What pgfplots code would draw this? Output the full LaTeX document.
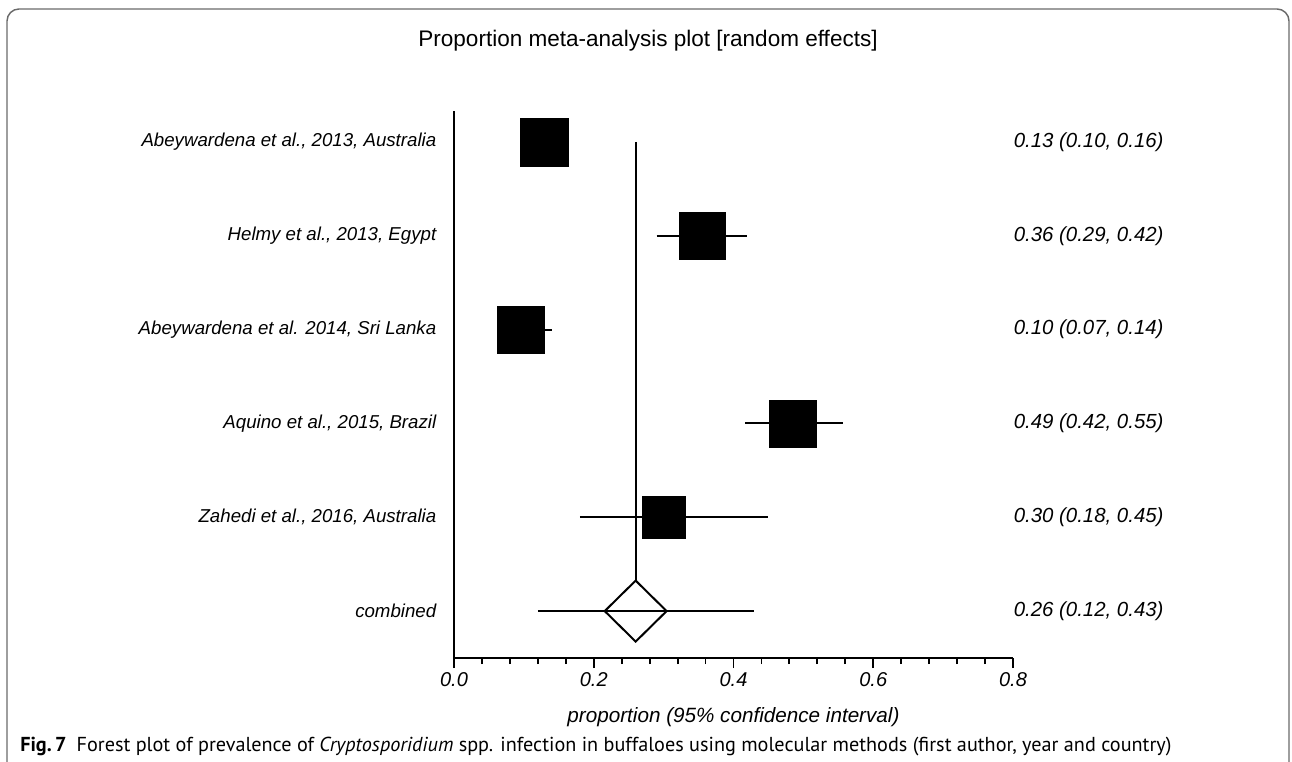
\documentclass[border=0pt]{standalone}
\usepackage{pgfplots}
\pgfplotsset{compat=1.18}
\usepackage{fontspec}
\setmainfont{Liberation Sans}
\newfontfamily\capfont{PT Sans}
\definecolor{framegray}{HTML}{6A6A6A}
\begin{document}
\begin{tikzpicture}[x=0.75pt,y=0.75pt]
\path[use as bounding box] (0,0) rectangle (1292,761);
% frame
\draw[framegray, line width=1.1pt, rounded corners=9pt] (7,-2) -- (7,752) -- (1289,752) -- (1289,-2);
% title
\node[font=\fontsize{16.9}{20}\selectfont] at (648,720) {Proportion meta-analysis plot [random effects]};
% caption
\node[anchor=base west, inner sep=0pt, font=\capfont\fontsize{15.15}{18}\selectfont] at (20,10)
 {\textbf{Fig.\,7}\enskip Forest plot of prevalence of \textit{Cryptosporidium} spp. infection in buffaloes using molecular methods (first author, year and country)};
\begin{axis}[
  at={(340.5pt,77.25pt)}, anchor=south west,
  scale only axis, width=419.25pt, height=410.25pt,
  xmin=0, xmax=0.8, ymin=0.5, ymax=6.33,
  axis x line=bottom, axis y line=left,
  axis line style={-, line width=1.5pt, black},
  xtick={0,0.2,0.4,0.6,0.8},
  minor x tick num=4,
  tick align=outside,
  major tick length=7.5pt, minor tick length=4.5pt,
  every tick/.style={line width=1.4pt, black},
  /pgf/number format/assume math mode=true,
  xticklabel style={font=\fontsize{15}{18}\selectfont\itshape, yshift=0pt, /pgf/number format/fixed, /pgf/number format/fixed zerofill, /pgf/number format/precision=1},
  ytick={1,2,3,4,5,6},
  yticklabels={{combined},{Zahedi et al., 2016, Australia},{Aquino et al., 2015, Brazil},{Abeywardena et al. 2014, Sri Lanka},{Helmy et al., 2013, Egypt},{Abeywardena et al., 2013, Australia}},
  ytick style={draw=none},
  yticklabel style={font=\fontsize{14}{18}\selectfont\itshape, xshift=-2.3pt},
  xlabel={proportion (95\% confidence interval)},
  xlabel style={font=\fontsize{15.5}{18}\selectfont\itshape, at={(axis description cs:0.5,0)}, anchor=center, yshift=-44.25pt},
  clip=false,
]
% reference line at pooled estimate
\addplot[black, line width=1.5pt] coordinates {(0.26,6) (0.26,1.325)};
% confidence intervals
\addplot[black, line width=1.5pt] coordinates {(0.10,6) (0.16,6)};
\addplot[black, line width=1.5pt] coordinates {(0.29,5) (0.42,5)};
\addplot[black, line width=1.5pt] coordinates {(0.07,4) (0.14,4)};
\addplot[black, line width=1.5pt] coordinates {(0.417,3) (0.556,3)};
\addplot[black, line width=1.5pt] coordinates {(0.18,2) (0.45,2)};
\addplot[black, line width=1.5pt] coordinates {(0.12,1) (0.43,1)};
% point estimates
\addplot[only marks, mark=square*, mark size=18pt, mark options={fill=black, draw=black}] coordinates {(0.129,6)};
\addplot[only marks, mark=square*, mark size=17.3pt, mark options={fill=black, draw=black}] coordinates {(0.355,5)};
\addplot[only marks, mark=square*, mark size=17.6pt, mark options={fill=black, draw=black}] coordinates {(0.095,4)};
\addplot[only marks, mark=square*, mark size=17.6pt, mark options={fill=black, draw=black}] coordinates {(0.485,3)};
\addplot[only marks, mark=square*, mark size=16pt, mark options={fill=black, draw=black}] coordinates {(0.30,2)};
% pooled diamond
\addplot[black, line width=1.5pt, fill=white] coordinates {(0.2157,1) (0.26,1.325) (0.3043,1) (0.26,0.675) (0.2157,1)};
\addplot[black, line width=1.5pt] coordinates {(0.2157,1) (0.3043,1)};
% estimates text
\node[anchor=east, font=\fontsize{15.3}{18}\selectfont\itshape, inner sep=0pt] at (axis cs:1.0158,6) {0.13 (0.10, 0.16)};
\node[anchor=east, font=\fontsize{15.3}{18}\selectfont\itshape, inner sep=0pt] at (axis cs:1.0158,5) {0.36 (0.29, 0.42)};
\node[anchor=east, font=\fontsize{15.3}{18}\selectfont\itshape, inner sep=0pt] at (axis cs:1.0158,4) {0.10 (0.07, 0.14)};
\node[anchor=east, font=\fontsize{15.3}{18}\selectfont\itshape, inner sep=0pt] at (axis cs:1.0158,3) {0.49 (0.42, 0.55)};
\node[anchor=east, font=\fontsize{15.3}{18}\selectfont\itshape, inner sep=0pt] at (axis cs:1.0158,2) {0.30 (0.18, 0.45)};
\node[anchor=east, font=\fontsize{15.3}{18}\selectfont\itshape, inner sep=0pt] at (axis cs:1.0158,1) {0.26 (0.12, 0.43)};
\end{axis}
\end{tikzpicture}
\end{document}
